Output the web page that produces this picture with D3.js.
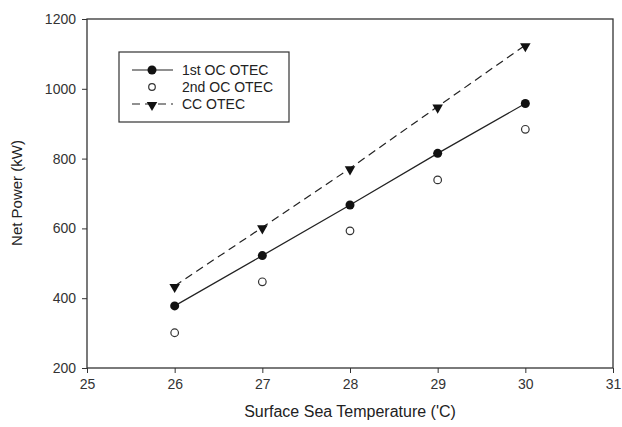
<!DOCTYPE html>
<html>
<head>
<meta charset="utf-8">
<script src="https://cdn.jsdelivr.net/npm/d3@7"></script>
<style>
  body { margin: 0; background: #fff; }
  svg { font-family: "Liberation Sans", Arial, sans-serif; }
</style>
</head>
<body>
<script>
// chart data
const temps = [26, 27, 28, 29, 30]
const firstOC = [378, 522, 667, 815, 958]
const secondOC = [301, 447, 593, 739, 884]
const ccOTEC = [435, 603, 772, 949, 1125]
const xTicks = [25, 26, 27, 28, 29, 30, 31]
const yTicks = [200, 400, 600, 800, 1000, 1200]
const legendNames = ["1st OC OTEC", "2nd OC OTEC", "CC OTEC"]

const W = 622, H = 427
const margin = {top: 19, right: 9, bottom: 59, left: 87}

const svg = d3.select('body').append('svg')
    .attr('width', W)
    .attr('height', H)

const xScale = d3.scaleLinear()
    .domain([25, 31])
    .range([margin.left, W - margin.right])

const yScale = d3.scaleLinear()
    .domain([200, 1200])
    .range([H - margin.bottom, margin.top])

// frame
svg.append('rect')
    .attr('x', margin.left)
    .attr('y', margin.top)
    .attr('width', W - margin.left - margin.right)
    .attr('height', H - margin.top - margin.bottom)
    .attr('fill', 'none')
    .attr('stroke', '#333')
    .attr('stroke-width', 1.3)

// axes
const xAxis = svg.append('g')
    .attr('transform', 'translate(0,' + (H - margin.bottom) + ')')
    .call(d3.axisBottom(xScale).tickValues(xTicks).tickSize(5).tickPadding(6).tickFormat(d3.format('d')))
const yAxis = svg.append('g')
    .attr('transform', 'translate(' + margin.left + ',0)')
    .call(d3.axisLeft(yScale).tickValues(yTicks).tickSize(5).tickPadding(6).tickFormat(d3.format('d')))

xAxis.select('.domain').remove()
yAxis.select('.domain').remove()
svg.selectAll('.tick line').attr('stroke', '#333')
svg.selectAll('.tick text').attr('font-size', '14px').attr('fill', '#333')

// series
const line = d3.line()
    .x((d, i) => xScale(temps[i]))
    .y(d => yScale(d))

svg.append('path')
    .datum(firstOC)
    .attr('d', line)
    .attr('fill', 'none')
    .attr('stroke', '#222')
    .attr('stroke-width', 1.2)

svg.append('path')
    .datum(ccOTEC)
    .attr('d', line)
    .attr('fill', 'none')
    .attr('stroke', '#222')
    .attr('stroke-width', 1.2)
    .attr('stroke-dasharray', '8,5')

const tri = d3.symbol().type(d3.symbolTriangle).size(48)

svg.selectAll('.c1').data(firstOC)
    .enter()
    .append('circle')
        .attr('cx', (d, i) => xScale(temps[i]))
        .attr('cy', d => yScale(d))
        .attr('r', 4.5)
        .attr('fill', '#111')

svg.selectAll('.c2').data(secondOC)
    .enter()
    .append('circle')
        .attr('cx', (d, i) => xScale(temps[i]))
        .attr('cy', d => yScale(d))
        .attr('r', 3.8)
        .attr('fill', '#fff')
        .attr('stroke', '#333')
        .attr('stroke-width', 1.2)

svg.selectAll('.t3').data(ccOTEC)
    .enter()
    .append('path')
        .attr('d', tri)
        .attr('transform', (d, i) => 'translate(' + xScale(temps[i]) + ',' + (yScale(d) + 1) + ') rotate(180)')
        .attr('fill', '#111')

// legend
const legend = svg.append('g')
legend.append('rect')
    .attr('x', 119)
    .attr('y', 52)
    .attr('width', 170)
    .attr('height', 70)
    .attr('fill', '#fff')
    .attr('stroke', '#333')
    .attr('stroke-width', 1.2)

legendNames.forEach((name, i) => {
    const ly = 70 + i * 17
    if (i == 0) {
        legend.append('line').attr('x1', 132).attr('x2', 173).attr('y1', ly).attr('y2', ly)
            .attr('stroke', '#222').attr('stroke-width', 1.2)
        legend.append('circle').attr('cx', 152).attr('cy', ly).attr('r', 4.5).attr('fill', '#111')
    } else if (i == 1) {
        legend.append('circle').attr('cx', 152).attr('cy', ly).attr('r', 3.3)
            .attr('fill', '#fff').attr('stroke', '#333').attr('stroke-width', 1.2)
    } else {
        legend.append('line').attr('x1', 132).attr('x2', 173).attr('y1', ly).attr('y2', ly)
            .attr('stroke', '#222').attr('stroke-width', 1.2).attr('stroke-dasharray', '8,5')
        legend.append('path').attr('d', tri)
            .attr('transform', 'translate(152,' + (ly + 1) + ') rotate(180)')
            .attr('fill', '#111')
    }
    legend.append('text')
        .attr('x', 182)
        .attr('y', ly + 5)
        .attr('font-size', '14px')
        .attr('fill', '#222')
        .text(name)
})

// axis titles
svg.append('text')
    .attr('x', (margin.left + W - margin.right) / 2)
    .attr('y', 417)
    .attr('text-anchor', 'middle')
    .attr('font-size', '16px')
    .attr('fill', '#222')
    .text("Surface Sea Temperature ('C)")

svg.append('text')
    .attr('transform', 'translate(22,193) rotate(-90)')
    .attr('text-anchor', 'middle')
    .attr('font-size', '15px')
    .attr('fill', '#222')
    .text("Net Power (kW)")
</script>
</body>
</html>
